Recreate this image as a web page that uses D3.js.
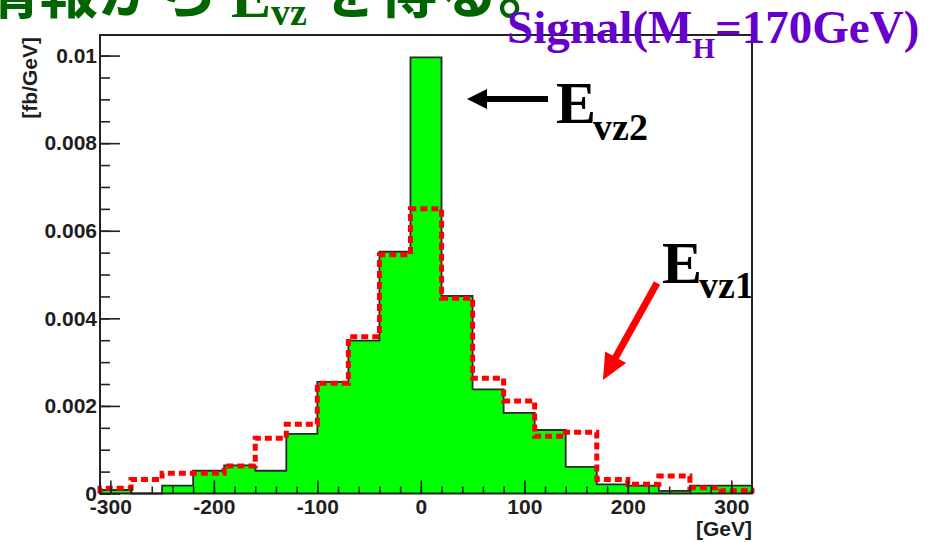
<!DOCTYPE html>
<html>
<head>
<meta charset="utf-8">
<script src="https://cdn.jsdelivr.net/npm/d3@7"></script>
<style>
  html, body { margin: 0; padding: 0; background: #fff; }
  svg { display: block; }
</style>
</head>
<body>
<svg id="chart" width="946" height="542"></svg>
<script>
// Bin edges of the E_vz histograms [GeV]
const binEdges = [-310, -280, -250, -220, -190, -160, -130, -100, -70, -40, -10,
                  20, 50, 80, 110, 140, 170, 200, 230, 260, 290, 320];

// E_vz2 (filled green histogram) [fb/GeV]
const evz2Values = [0.00008, 0, 0.00018, 0.00052, 0.00064, 0.00052, 0.00136, 0.00255,
                    0.00349, 0.00552, 0.00996, 0.00451, 0.00238, 0.00184, 0.00145,
                    0.00061, 0.00021, 0.00018, 0.00006, 0.00018, 0.00018];

// E_vz1 (red dashed histogram) [fb/GeV]
const evz1Values = [0.00012, 0.00032, 0.00046, 0.00046, 0.00063, 0.00126, 0.00158, 0.00252,
                    0.00358, 0.00545, 0.0065, 0.00446, 0.00263, 0.00211, 0.00131,
                    0.0014, 0.00032, 0.00021, 0.0004, 0.00013, 0.00006];

// Axis tick labels
const xTickLabels = ["-300", "-200", "-100", "0", "100", "200", "300"];
const yTickLabels = ["0", "0.002", "0.004", "0.006", "0.008", "0.01"];

const xDomain = [-310, 320];
const yDomain = [0, 0.01047];

const svg = d3.select("#chart");
const frameL = 100, frameR = 752, frameT = 35, frameB = 493.5;

const x = d3.scaleLinear().domain(xDomain).range([frameL, frameR]);
const y = d3.scaleLinear().domain(yDomain).range([frameB, frameT]);

// Step outline points for a histogram
function stepPoints(vals) {
  const pts = [[binEdges[0], 0]];
  vals.forEach((v, i) => {
    pts.push([binEdges[i], v]);
    pts.push([binEdges[i + 1], v]);
  });
  pts.push([binEdges[binEdges.length - 1], 0]);
  return pts;
}

const area = d3.area().x(d => x(d[0])).y0(y(0)).y1(d => y(d[1]));
const line = d3.line().x(d => x(d[0])).y(d => y(d[1]));

const plot = svg.append("g");

// Filled E_vz2 histogram
const p2 = stepPoints(evz2Values);
plot.append("path").attr("d", area(p2)).attr("fill", "#00ff00");
plot.append("path").attr("d", line(p2))
  .attr("fill", "none").attr("stroke", "#2a2a2a").attr("stroke-width", 1.8);

// Dashed E_vz1 histogram
const p1 = stepPoints(evz1Values);
plot.append("path").attr("d", line(p1))
  .attr("fill", "none").attr("stroke", "#ff0000").attr("stroke-width", 5)
  .attr("stroke-dasharray", "7,4");

// Frame
svg.append("rect")
  .attr("x", frameL).attr("y", frameT)
  .attr("width", frameR - frameL).attr("height", frameB - frameT)
  .attr("fill", "none").attr("stroke", "#222").attr("stroke-width", 2);

const axisFont = "'Liberation Sans', Arial, Helvetica, sans-serif";

// X axis: major ticks with labels, minor ticks every 20 GeV
const xMajor = xTickLabels.map(s => +s);
const xMinor = d3.range(-15, 17).map(i => i * 20);
const gxMinor = svg.append("g").attr("transform", `translate(0,${frameB})`)
  .call(d3.axisBottom(x).tickValues(xMinor).tickSizeInner(-7).tickSizeOuter(0).tickFormat(""));
const gx = svg.append("g").attr("transform", `translate(0,${frameB})`)
  .call(d3.axisBottom(x).tickValues(xMajor).tickSizeInner(-13).tickSizeOuter(0)
    .tickPadding(6).tickFormat((d, i) => xTickLabels[i]));

// Y axis: major ticks with labels, minor ticks every 0.0005
const yMajor = yTickLabels.map(s => +s);
const yMinor = d3.range(0, 21).map(i => i * 0.0005);
const gyMinor = svg.append("g").attr("transform", `translate(${frameL},0)`)
  .call(d3.axisLeft(y).tickValues(yMinor).tickSizeInner(-10).tickSizeOuter(0).tickFormat(""));
const gy = svg.append("g").attr("transform", `translate(${frameL},0)`)
  .call(d3.axisLeft(y).tickValues(yMajor).tickSizeInner(-20).tickSizeOuter(0)
    .tickPadding(3).tickFormat((d, i) => yTickLabels[i]));

[gxMinor, gx, gyMinor, gy].forEach(g => {
  g.select(".domain").remove();
  g.selectAll(".tick line").attr("stroke", "#222").attr("stroke-width", 1.6);
  g.selectAll(".tick text")
    .attr("fill", "#1e1e1e")
    .style("font-family", axisFont)
    .style("font-weight", "bold")
    .style("font-size", "21px");
});

// Axis titles
svg.append("text")
  .attr("x", frameR).attr("y", 536)
  .attr("text-anchor", "end")
  .attr("fill", "#1e1e1e")
  .style("font-family", axisFont).style("font-weight", "bold").style("font-size", "21px")
  .text("[GeV]");

svg.append("text")
  .attr("transform", "translate(37,37) rotate(-90)")
  .attr("text-anchor", "end")
  .attr("fill", "#1e1e1e")
  .style("font-family", axisFont).style("font-weight", "bold").style("font-size", "21px")
  .text("[fb/GeV]");

const serif = "'Liberation Serif', 'Times New Roman', serif";
const cjk = "'Noto Sans CJK JP', sans-serif";

// Slide heading (runs off the top edge)
const heading = svg.append("g").attr("fill", "#006400");
heading.append("text").attr("x", -22).attr("y", 13)
  .style("font-family", cjk).style("font-weight", "bold").style("font-size", "60px")
  .text("情報から");
const hE = heading.append("text").attr("x", 231).attr("y", 17)
  .style("font-family", serif).style("font-weight", "bold").style("font-size", "60px");
hE.append("tspan").text("E");
hE.append("tspan").attr("dy", 8).style("font-size", "38px").text("vz");
heading.append("text").attr("x", 318).attr("y", 13)
  .style("font-family", cjk).style("font-weight", "bold").style("font-size", "60px")
  .text("を得る。");

// Signal label
const sig = svg.append("text").attr("x", 507).attr("y", 43)
  .attr("fill", "#6600cc")
  .style("font-family", serif).style("font-weight", "bold").style("font-size", "47px");
sig.append("tspan").text("Signal(M");
sig.append("tspan").attr("dy", 15).style("font-size", "29px").text("H");
sig.append("tspan").attr("dy", -15).text("=170GeV)");

// E_vz2 annotation with black arrow
const e2 = svg.append("text").attr("x", 556).attr("y", 123)
  .attr("fill", "#000")
  .style("font-family", serif).style("font-weight", "bold").style("font-size", "60px");
e2.append("tspan").text("E");
e2.append("tspan").attr("dy", 17).attr("dx", -3).style("font-size", "38px").text("vz2");

svg.append("line")
  .attr("x1", 548).attr("y1", 99).attr("x2", 484).attr("y2", 99)
  .attr("stroke", "#000").attr("stroke-width", 6);
svg.append("path")
  .attr("d", "M467,99 L487,89 L487,109 Z")
  .attr("fill", "#000");

// E_vz1 annotation with red arrow
const e1 = svg.append("text").attr("x", 662).attr("y", 283)
  .attr("fill", "#000")
  .style("font-family", serif).style("font-weight", "bold").style("font-size", "60px");
e1.append("tspan").text("E");
e1.append("tspan").attr("dy", 15).attr("dx", -3).style("font-size", "38px").text("vz1");

const ax1 = 657, ay1 = 283, ax2 = 603, ay2 = 380;
const ang = Math.atan2(ay2 - ay1, ax2 - ax1);
const headLen = 26, headHalf = 12;
const bx = ax2 - headLen * Math.cos(ang), by = ay2 - headLen * Math.sin(ang);
svg.append("line")
  .attr("x1", ax1).attr("y1", ay1).attr("x2", bx + 2 * Math.cos(ang)).attr("y2", by + 2 * Math.sin(ang))
  .attr("stroke", "#ff0000").attr("stroke-width", 7);
svg.append("path")
  .attr("d", `M${ax2},${ay2} L${bx - headHalf * Math.sin(ang)},${by + headHalf * Math.cos(ang)} L${bx + headHalf * Math.sin(ang)},${by - headHalf * Math.cos(ang)} Z`)
  .attr("fill", "#ff0000");
</script>
</body>
</html>
